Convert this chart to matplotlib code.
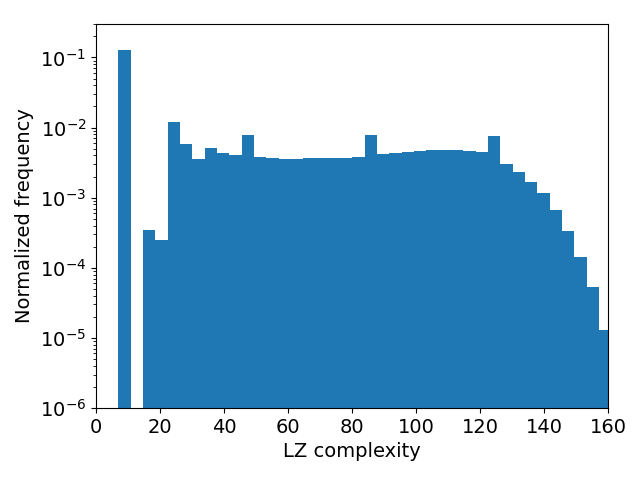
import numpy as np
import matplotlib
matplotlib.use('Agg')
import matplotlib.pyplot as plt

# Histogram settings: 40 bins between LZ = 7 and LZ = 161
lz_min, lz_max, n_bins = 7, 161, 40

# Normalized frequency per bin
freq = [
    0.127, 0.0, 3.51e-4, 2.52e-4, 0.0119, 5.75e-3, 3.51e-3, 5.05e-3,
    4.28e-3, 4.01e-3, 7.74e-3, 3.75e-3, 3.63e-3, 3.51e-3, 3.51e-3, 3.63e-3,
    3.63e-3, 3.63e-3, 3.63e-3, 3.75e-3, 7.74e-3, 4.15e-3, 4.28e-3, 4.42e-3,
    4.57e-3, 4.73e-3, 4.73e-3, 4.73e-3, 4.57e-3, 4.42e-3, 7.5e-3, 2.98e-3,
    2.29e-3, 1.70e-3, 1.15e-3, 6.78e-4, 3.39e-4, 1.44e-4, 5.37e-5, 1.30e-5,
]

edges = np.linspace(lz_min, lz_max, n_bins + 1)
centers = (edges[:-1] + edges[1:]) / 2

plt.rcParams['font.size'] = 14

fig, ax = plt.subplots(figsize=(6.4, 4.8), dpi=100)
ax.hist(centers, bins=edges, weights=freq, log=True, color='#1f77b4')

ax.set_xlim(0, 160)
ax.set_ylim(1e-6, 0.3)
ax.set_xlabel('LZ complexity')
ax.set_ylabel('Normalized frequency')

plt.subplots_adjust(left=0.15, right=0.95, bottom=0.15, top=0.95)
plt.savefig('out.png')
